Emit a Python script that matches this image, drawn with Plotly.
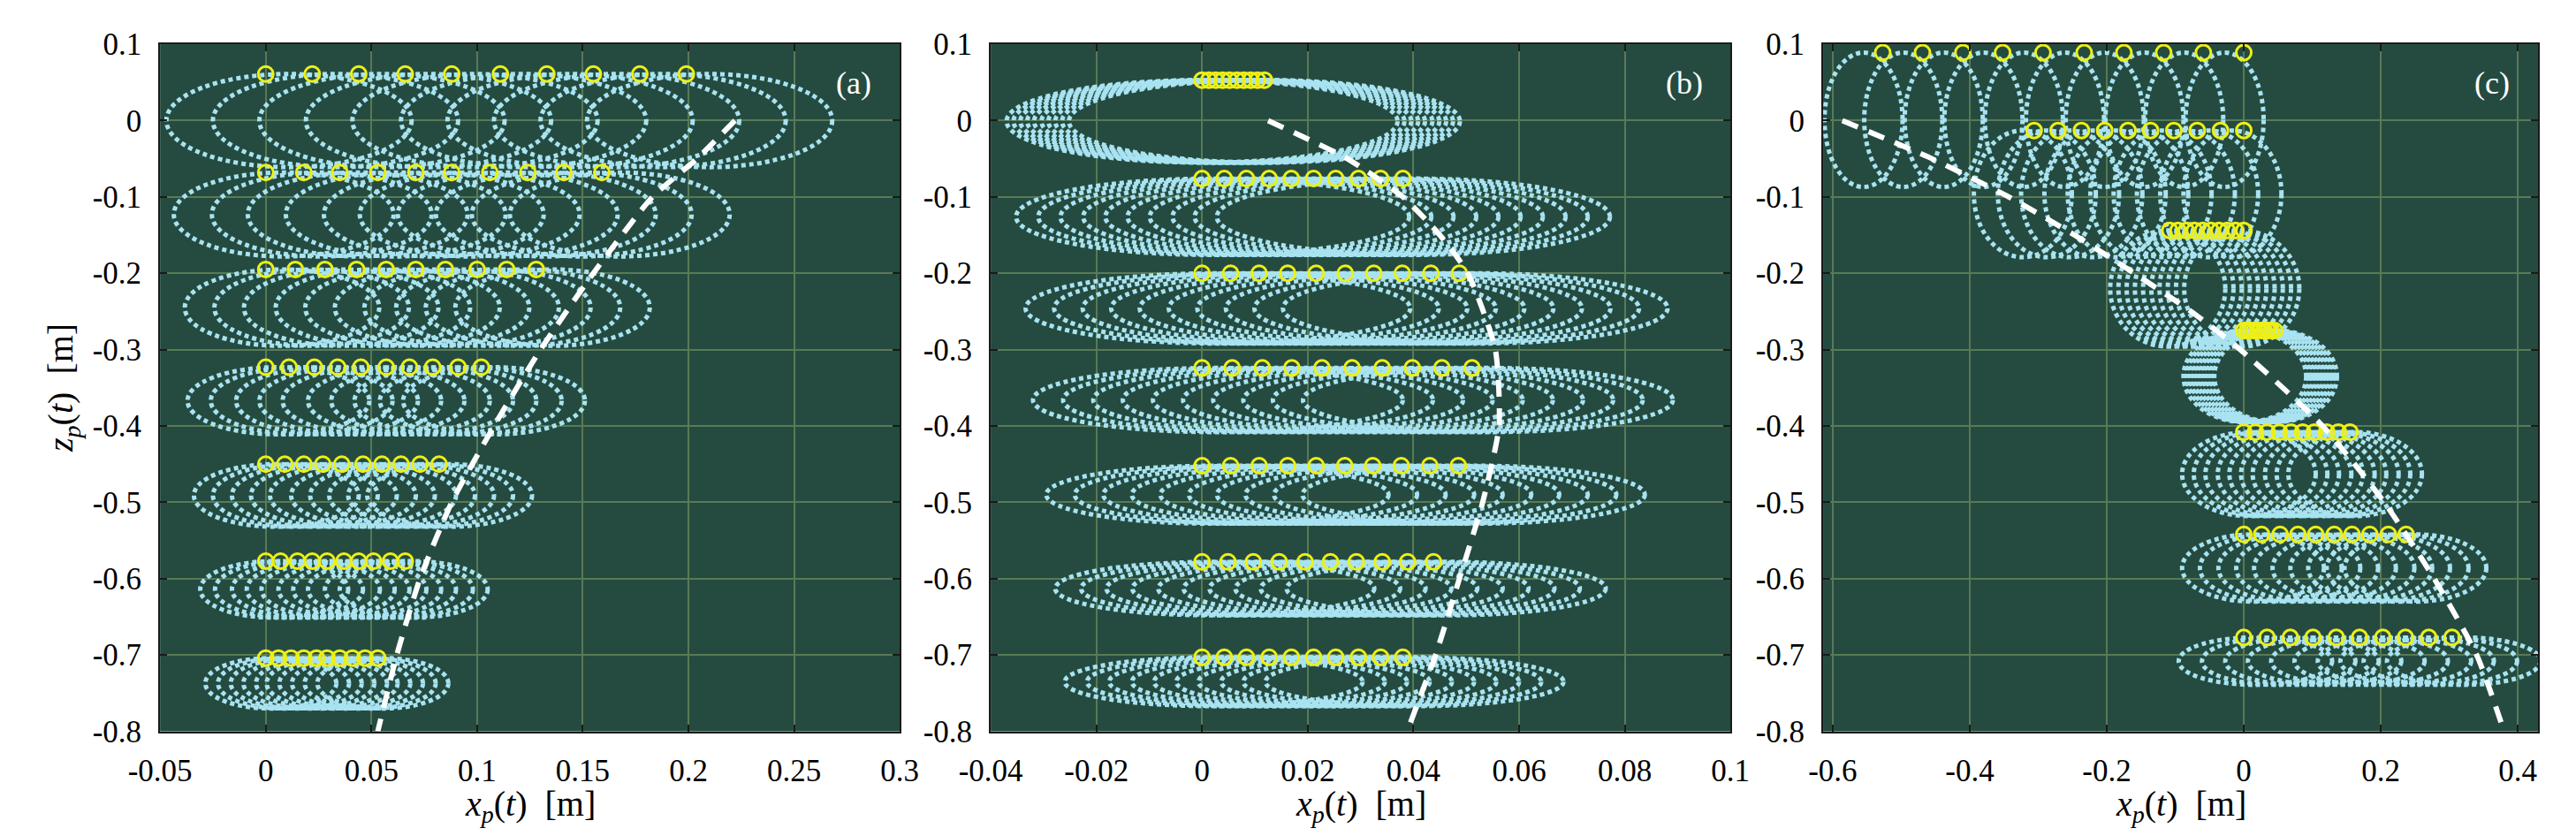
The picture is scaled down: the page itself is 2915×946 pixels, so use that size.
"""Particle orbits under waves: three panels of dotted orbits, start points and drift line."""

import plotly.graph_objects as go

# ---------------------------------------------------------------------------
# Panel (a): start heights, start positions, orbit offset and semi-axes per row
# ---------------------------------------------------------------------------
a_ztop = [0.061, -0.068, -0.195, -0.323, -0.450, -0.577, -0.704]
a_x0 = [
    [0.000, 0.022, 0.044, 0.066, 0.088, 0.111, 0.133, 0.155, 0.177, 0.199],
    [0.000, 0.018, 0.035, 0.053, 0.071, 0.088, 0.106, 0.124, 0.141, 0.159],
    [0.000, 0.014, 0.028, 0.043, 0.057, 0.071, 0.085, 0.100, 0.114, 0.128],
    [0.000, 0.011, 0.023, 0.034, 0.045, 0.057, 0.068, 0.079, 0.091, 0.102],
    [0.000, 0.009, 0.018, 0.027, 0.036, 0.046, 0.055, 0.064, 0.073, 0.082],
    [0.000, 0.007, 0.015, 0.022, 0.029, 0.037, 0.044, 0.051, 0.059, 0.066],
    [0.000, 0.006, 0.012, 0.018, 0.024, 0.029, 0.035, 0.041, 0.047, 0.053],
]
a_shift = [0.0110, 0.0085, 0.0077, 0.0060, 0.0050, 0.0040, 0.0024]
a_semi_x = [0.058, 0.052, 0.046, 0.043, 0.039, 0.035, 0.031]
a_semi_z = [0.061, 0.055, 0.050, 0.044, 0.041, 0.037, 0.033]
a_line_z = [0.0, -0.05, -0.1, -0.2, -0.3, -0.4, -0.5, -0.6, -0.7, -0.8]
a_line_x = [0.222, 0.204, 0.183, 0.155, 0.130, 0.108, 0.088, 0.073, 0.062, 0.053]

# Panel (b)
b_ztop = [0.053, -0.076, -0.200, -0.324, -0.452, -0.578, -0.703]
b_x0 = [
    [0.0000, 0.0013, 0.0026, 0.0039, 0.0052, 0.0066, 0.0079, 0.0092, 0.0105, 0.0118],
    [0.0000, 0.0042, 0.0084, 0.0127, 0.0169, 0.0211, 0.0253, 0.0296, 0.0338, 0.0380],
    [0.0000, 0.0054, 0.0108, 0.0162, 0.0216, 0.0271, 0.0325, 0.0379, 0.0433, 0.0487],
    [0.0000, 0.0057, 0.0114, 0.0170, 0.0227, 0.0284, 0.0341, 0.0398, 0.0454, 0.0511],
    [0.0000, 0.0054, 0.0108, 0.0162, 0.0216, 0.0270, 0.0323, 0.0377, 0.0431, 0.0485],
    [0.0000, 0.0049, 0.0097, 0.0146, 0.0195, 0.0243, 0.0292, 0.0341, 0.0389, 0.0438],
    [0.0000, 0.0042, 0.0084, 0.0127, 0.0169, 0.0211, 0.0253, 0.0296, 0.0338, 0.0380],
]
b_shift = [0.0000, 0.0020, 0.0030, 0.0030, 0.0029, 0.0024, 0.0022]
b_semi_x = [0.0370, 0.0372, 0.0364, 0.0350, 0.0324, 0.0302, 0.0282]
b_semi_z = [0.054, 0.050, 0.046, 0.042, 0.038, 0.035, 0.032]
b_line_z = [0.0, -0.05, -0.1, -0.15, -0.2, -0.3, -0.4, -0.5, -0.6, -0.7, -0.8]
b_line_x = [0.0125, 0.0275, 0.0380, 0.0450, 0.0503, 0.0555, 0.0562, 0.0531, 0.0487, 0.0442, 0.0388]

# Panel (c)
c_ztop = [0.089, -0.013, -0.144, -0.275, -0.408, -0.542, -0.677]
c_x0 = [
    [-0.527, -0.469, -0.410, -0.352, -0.293, -0.233, -0.175, -0.117, -0.059, 0.000],
    [-0.306, -0.271, -0.237, -0.203, -0.169, -0.136, -0.102, -0.068, -0.034, 0.000],
    [-0.108, -0.096, -0.084, -0.072, -0.060, -0.048, -0.036, -0.024, -0.012, 0.000],
    [0.000, 0.005, 0.010, 0.015, 0.020, 0.025, 0.030, 0.035, 0.040, 0.045],
    [0.000, 0.017, 0.034, 0.052, 0.069, 0.086, 0.103, 0.121, 0.138, 0.155],
    [0.000, 0.026, 0.053, 0.079, 0.105, 0.132, 0.158, 0.184, 0.211, 0.237],
    [0.000, 0.034, 0.068, 0.101, 0.135, 0.169, 0.203, 0.236, 0.270, 0.304],
]
c_shift = [-0.0280, -0.0165, -0.0030, 0.0015, 0.0075, 0.0135, 0.0170]
c_semi_x = [0.0570, 0.0715, 0.0840, 0.0895, 0.0975, 0.1035, 0.1120]
c_semi_z = [0.088, 0.083, 0.076, 0.060, 0.055, 0.044, 0.031]
c_line_z = [0.0, -0.05, -0.1, -0.15, -0.2, -0.25, -0.3, -0.4, -0.5, -0.6, -0.7, -0.8]
c_line_x = [-0.586, -0.455, -0.343, -0.247, -0.160, -0.077, -0.005, 0.115, 0.205, 0.278, 0.340, 0.380]

# Axis ticks
a_xticks = [-0.05, 0, 0.05, 0.1, 0.15, 0.2, 0.25, 0.3]
a_xlabels = ["-0.05", "0", "0.05", "0.1", "0.15", "0.2", "0.25", "0.3"]
b_xticks = [-0.04, -0.02, 0, 0.02, 0.04, 0.06, 0.08, 0.1]
b_xlabels = ["-0.04", "-0.02", "0", "0.02", "0.04", "0.06", "0.08", "0.1"]
c_xticks = [-0.6, -0.4, -0.2, 0, 0.2, 0.4]
c_xlabels = ["-0.6", "-0.4", "-0.2", "0", "0.2", "0.4"]
zticks = [0.1, 0, -0.1, -0.2, -0.3, -0.4, -0.5, -0.6, -0.7, -0.8]
zlabels = ["0.1", "0", "-0.1", "-0.2", "-0.3", "-0.4", "-0.5", "-0.6", "-0.7", "-0.8"]

BG = "#254b40"
GRID = "#587a55"
ORBIT = "#a9e3f2"
START = "#eef014"
FONT = "Liberation Serif"

panels = [
    dict(sfx="", name="(a)", xr=[-0.05, 0.3], dom=[0.0480, 0.3410],
         ztop=a_ztop, x0=a_x0, shift=a_shift, sx=a_semi_x, sz=a_semi_z,
         lx=a_line_x, lz=a_line_z, ticks=a_xticks, labels=a_xlabels),
    dict(sfx="2", name="(b)", xr=[-0.04, 0.1], dom=[0.3770, 0.6700],
         ztop=b_ztop, x0=b_x0, shift=b_shift, sx=b_semi_x, sz=b_semi_z,
         lx=b_line_x, lz=b_line_z, ticks=b_xticks, labels=b_xlabels),
    dict(sfx="3", name="(c)", xr=[-0.614, 0.43], dom=[0.7067, 0.9900],
         ztop=c_ztop, x0=c_x0, shift=c_shift, sx=c_semi_x, sz=c_semi_z,
         lx=c_line_x, lz=c_line_z, ticks=c_xticks, labels=c_xlabels),
]

fig = go.Figure()
ydom = [0.1173, 0.9746]

for p in panels:
    xa, ya = "x" + p["sfx"], "y" + p["sfx"]

    # dotted orbits, one ellipse per start point
    for j, row in enumerate(p["x0"]):
        cz = p["ztop"][j] - p["sz"][j]
        for x0 in row:
            cx = x0 + p["shift"][j]
            fig.add_shape(
                type="circle", xref=xa, yref=ya,
                x0=cx - p["sx"][j], x1=cx + p["sx"][j],
                y0=cz - p["sz"][j], y1=cz + p["sz"][j],
                line=dict(color=ORBIT, width=5, dash="5px,4px"),
                layer="between",
            )

    # start points
    xs = [x for row in p["x0"] for x in row]
    zs = [p["ztop"][j] for j, row in enumerate(p["x0"]) for _ in row]
    fig.add_trace(go.Scatter(
        x=xs, y=zs, xaxis=xa, yaxis=ya, mode="markers",
        marker=dict(symbol="circle-open", size=17, color=START, line=dict(width=3, color=START)),
        hoverinfo="skip",
    ))

    # drift line
    fig.add_trace(go.Scatter(
        x=p["lx"], y=p["lz"], xaxis=xa, yaxis=ya, mode="lines",
        line=dict(color="white", width=6, dash="19px,13px", shape="spline", smoothing=0.6),
        hoverinfo="skip",
    ))

    axis_common = dict(
        showgrid=True, gridcolor=GRID, gridwidth=1.5, zeroline=False,
        showline=True, linecolor="#1a1a1a", linewidth=2, mirror="ticks",
        ticks="inside", ticklen=8, tickwidth=2, tickcolor="#1a1a1a",
        tickfont=dict(family=FONT, size=35, color="black"),
        ticklabelstandoff=12,
    )
    fig.update_layout(**{
        "xaxis" + p["sfx"]: dict(domain=p["dom"], range=p["xr"], anchor=ya,
                                  tickvals=p["ticks"], ticktext=p["labels"], **axis_common),
        "yaxis" + p["sfx"]: dict(domain=ydom, range=[-0.8, 0.1], anchor=xa,
                                  tickvals=zticks, ticktext=zlabels, **axis_common),
    })

    # panel tag and x label
    fig.add_annotation(
        text=p["name"], xref=xa + " domain", yref=ya + " domain",
        x=1 - 53 / (2915 * (p["dom"][1] - p["dom"][0])), y=0.943,
        showarrow=False, font=dict(family=FONT, size=36, color="white"),
        xanchor="center", yanchor="middle",
    )
    fig.add_annotation(
        text="<i>x<sub>p</sub></i>(<i>t</i>)  [m]", xref="paper", yref="paper",
        x=(p["dom"][0] + p["dom"][1]) / 2, y=0.024,
        showarrow=False, font=dict(family=FONT, size=40, color="black"),
        xanchor="center", yanchor="middle",
    )

fig.add_annotation(
    text="<i>z<sub>p</sub></i>(<i>t</i>)  [m]", xref="paper", yref="paper",
    x=0.0095, y=(ydom[0] + ydom[1]) / 2, textangle=-90,
    showarrow=False, font=dict(family=FONT, size=40, color="black"),
    xanchor="center", yanchor="middle",
)

fig.update_layout(
    width=2915, height=946, autosize=False,
    margin=dict(l=0, r=0, t=0, b=0),
    paper_bgcolor="white", plot_bgcolor=BG,
    showlegend=False,
)

fig.write_html("out.html")
